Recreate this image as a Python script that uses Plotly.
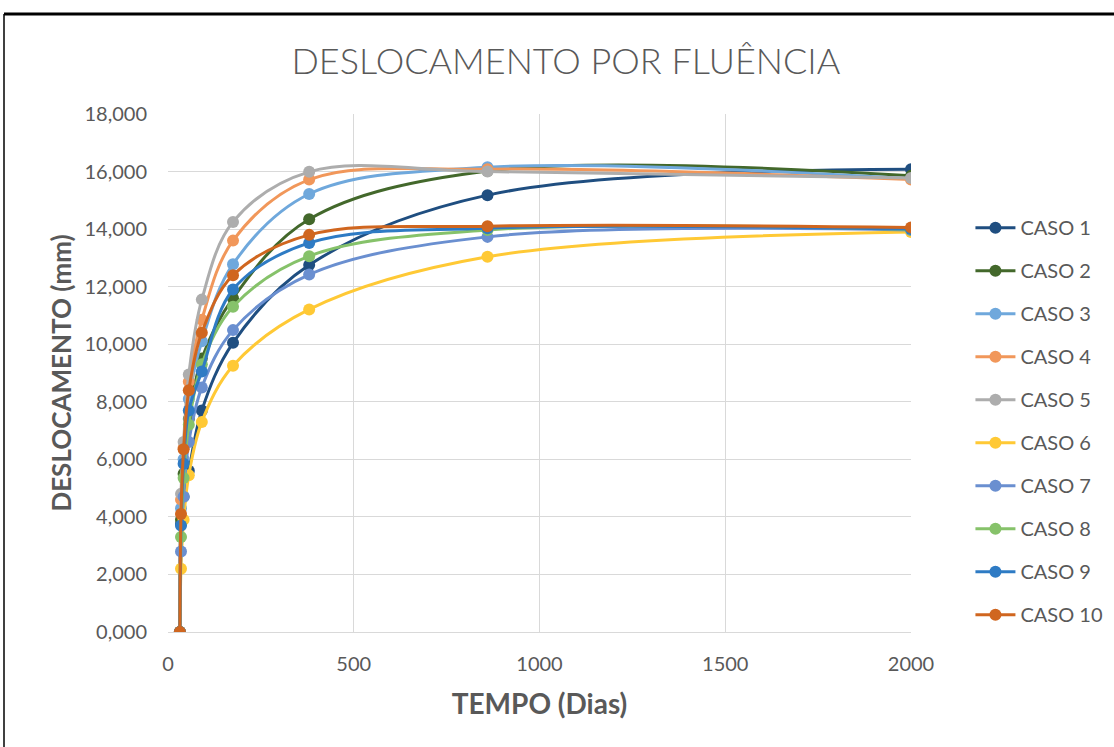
import plotly.graph_objects as go

# Tempo (dias) das leituras
tempo = [32, 35, 42, 56, 91, 175, 380, 860, 2000]

# Deslocamento por fluência (mm) em cada caso
caso_1 = [0, 3.75, 4.70, 5.60, 7.70, 10.05, 12.75, 15.18, 16.08]
caso_2 = [0, 3.90, 5.50, 7.40, 9.50, 11.60, 14.34, 16.02, 15.85]
caso_3 = [0, 4.30, 6.00, 8.10, 10.10, 12.78, 15.22, 16.15, 15.75]
caso_4 = [0, 4.60, 6.40, 8.70, 10.85, 13.60, 15.72, 16.08, 15.72]
caso_5 = [0, 4.80, 6.60, 8.95, 11.55, 14.25, 15.99, 16.00, 15.78]
caso_6 = [0, 2.20, 3.90, 5.45, 7.30, 9.25, 11.21, 13.04, 13.90]
caso_7 = [0, 2.80, 4.70, 6.60, 8.50, 10.49, 12.42, 13.73, 13.97]
caso_8 = [0, 3.30, 5.35, 7.20, 9.30, 11.30, 13.06, 13.97, 13.99]
caso_9 = [0, 3.70, 5.85, 7.70, 9.05, 11.90, 13.52, 14.03, 14.00]
caso_10 = [0, 4.10, 6.35, 8.40, 10.40, 12.40, 13.80, 14.10, 14.06]

nomes = ["CASO 1", "CASO 2", "CASO 3", "CASO 4", "CASO 5",
         "CASO 6", "CASO 7", "CASO 8", "CASO 9", "CASO 10"]
series = [caso_1, caso_2, caso_3, caso_4, caso_5,
          caso_6, caso_7, caso_8, caso_9, caso_10]
cores = ["#1F4E80", "#43682B", "#6FA8DC", "#F1975A", "#ADADAD",
         "#FFC935", "#6A8FD0", "#86C26A", "#2E7BC4", "#D0661F"]

fig = go.Figure()
for nome, valores, cor in zip(nomes, series, cores):
    fig.add_trace(go.Scatter(
        x=tempo, y=valores, name=nome, legendgroup=nome,
        mode="lines+markers",
        line=dict(color=cor, width=3, shape="spline", smoothing=1),
        marker=dict(color=cor, size=12),
    ))

cinza = "#595959"
grade = "#D9D9D9"

fig.update_layout(
    width=1114, height=747,
    margin=dict(l=168, r=203, t=114, b=115, autoexpand=False),
    paper_bgcolor="white", plot_bgcolor="white",
    separators=",.",
    font=dict(family="Lato", color=cinza, size=20),
    title=dict(text="DESLOCAMENTO POR FLUÊNCIA",
               font=dict(family="Lato", size=36, color=cinza, weight=300),
               x=0.508, xanchor="center", y=0.918, yanchor="middle"),
    xaxis=dict(range=[0, 2000], tickvals=[0, 500, 1000, 1500, 2000],
               showgrid=True, gridcolor=grade, gridwidth=1,
               zeroline=False, showline=True, linecolor=grade,
               ticks="", ticklabelstandoff=14,
               tickfont=dict(size=20, color=cinza),
               title=dict(text="<b>TEMPO (Dias)</b>", standoff=20,
                          font=dict(size=28, color=cinza))),
    yaxis=dict(range=[0, 18], dtick=2, tickformat=".3f",
               showgrid=True, gridcolor=grade, gridwidth=1,
               zeroline=False, showline=False,
               ticks="", ticklabelstandoff=20,
               tickfont=dict(size=20, color=cinza),
               title=dict(text="<b>DESLOCAMENTO (mm)</b>", standoff=5,
                          font=dict(size=26, color=cinza))),
    legend=dict(x=1.080, xanchor="left", y=0.407, yanchor="middle",
                font=dict(size=20, color=cinza), tracegroupgap=14,
                itemwidth=40, bgcolor="rgba(0,0,0,0)"),
    shapes=[
        dict(type="line", xref="paper", yref="paper",
             x0=-164 / 743, x1=1.3, y0=1 + 100 / 518, y1=1 + 100 / 518,
             line=dict(color="black", width=3)),
        dict(type="line", xref="paper", yref="paper",
             x0=-164 / 743, x1=-164 / 743, y0=-0.3, y1=1 + 100 / 518,
             line=dict(color="black", width=1.5)),
    ],
)

fig.write_html("out.html")
